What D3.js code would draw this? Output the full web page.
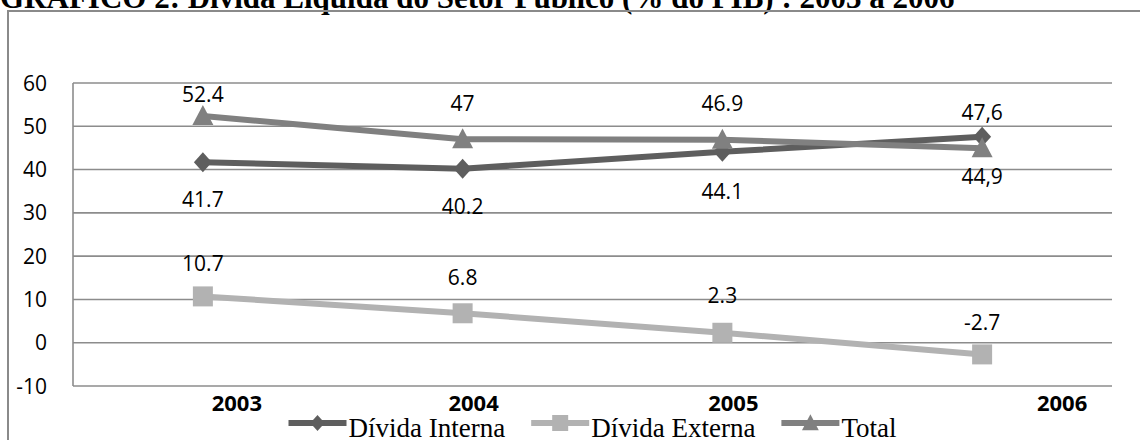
<!DOCTYPE html>
<html>
<head>
<meta charset="utf-8">
<script src="https://cdn.jsdelivr.net/npm/d3@7"></script>
<style>
  html, body { margin: 0; padding: 0; background: #fff; }
  svg { display: block; }
</style>
</head>
<body>
<svg id="chart" width="1140" height="440"></svg>
<script>
// Dívida Líquida do Setor Público (% do PIB), 2003–2006
const years = ["2003", "2004", "2005", "2006"];
const dividaInterna = [41.7, 40.2, 44.1, 47.6];
const dividaExterna = [10.7, 6.8, 2.3, -2.7];
const dividaTotal = [52.4, 47, 46.9, 44.9];
const yTicks = [-10, 0, 10, 20, 30, 40, 50, 60];

const titleText = "GRÁFICO 2: Dívida Líquida do Setor Público (% do PIB) : 2003 a 2006";

const series = [
  { name: "Dívida Interna", values: dividaInterna, color: "#5e5e5e", marker: "diamond",
    labelDy: [37, 38, 40, -24], comma: [false, false, false, true] },
  { name: "Dívida Externa", values: dividaExterna, color: "#b2b2b2", marker: "square",
    labelDy: [-33, -36, -37, -32], comma: [false, false, false, false] },
  { name: "Total", values: dividaTotal, color: "#808080", marker: "triangle",
    labelDy: [-21, -36, -36, 28], comma: [false, false, false, true] }
];

const svg = d3.select("#chart");
const plot = { left: 73, right: 1112, top: 83, bottom: 386 };

// page title (partly above the frame)
svg.append("text")
  .attr("x", 0).attr("y", 8)
  .attr("font-family", "'Liberation Serif', 'Times New Roman', serif")
  .attr("font-weight", "bold")
  .attr("font-size", 31)
  .attr("fill", "#000")
  .text(titleText);

// chart frame
svg.append("rect")
  .attr("x", 8).attr("y", 11)
  .attr("width", 1160).attr("height", 460)
  .attr("fill", "none").attr("stroke", "#8a8a8a").attr("stroke-width", 2);

const x = d3.scaleBand().domain(years).range([plot.left, plot.right]);
const y = d3.scaleLinear().domain([-10, 60]).range([plot.bottom, plot.top]);
const cx = d => x(d) + x.bandwidth() / 2;

// horizontal gridlines
svg.append("g").selectAll("line").data(yTicks).join("line")
  .attr("x1", plot.left).attr("x2", plot.right)
  .attr("y1", d => y(d)).attr("y2", d => y(d))
  .attr("stroke", "#8c8c8c").attr("stroke-width", 1.6);

// value axis line
svg.append("line")
  .attr("x1", plot.left).attr("x2", plot.left)
  .attr("y1", y(60)).attr("y2", y(-10))
  .attr("stroke", "#8c8c8c").attr("stroke-width", 1.6);

const sans = "'Open Sans', 'Noto Sans', sans-serif";

// y tick labels
svg.append("g").selectAll("text").data(yTicks).join("text")
  .attr("x", 47).attr("y", d => y(d))
  .attr("dy", "0.36em")
  .attr("text-anchor", "end")
  .attr("font-family", sans).attr("font-size", 21).attr("fill", "#000")
  .text(d => d);

// category labels (slightly right of each band centre)
const catLabelShift = [34, 11, 11, 80];
svg.append("g").selectAll("text").data(years).join("text")
  .attr("x", (d, i) => cx(d) + catLabelShift[i])
  .attr("y", 411)
  .attr("text-anchor", "middle")
  .attr("font-family", sans).attr("font-weight", "bold")
  .attr("font-size", 22).attr("fill", "#000")
  .text(d => d);

function markerPath(type) {
  if (type === "diamond") return "M0,-10L9,0L0,10L-9,0Z";
  if (type === "square") return "M-10,-10H10V10H-10Z";
  return "M0,-11L10.5,9L-10.5,9Z";
}

const line = d3.line().x((d, i) => cx(years[i])).y(d => y(d));

series.forEach(s => {
  const g = svg.append("g");
  g.append("path")
    .attr("d", line(s.values))
    .attr("fill", "none").attr("stroke", s.color)
    .attr("stroke-width", 6).attr("stroke-linejoin", "round");
  g.selectAll("path.m").data(s.values).join("path")
    .attr("class", "m")
    .attr("transform", (d, i) => `translate(${cx(years[i])},${y(d)})`)
    .attr("d", markerPath(s.marker))
    .attr("fill", s.color);
});

// data labels
series.forEach(s => {
  svg.append("g").selectAll("text").data(s.values).join("text")
    .attr("x", (d, i) => cx(years[i]))
    .attr("y", (d, i) => y(d) + s.labelDy[i])
    .attr("dy", "0.36em")
    .attr("text-anchor", "middle")
    .attr("font-family", sans).attr("font-size", 21).attr("fill", "#000")
    .text((d, i) => {
      const t = String(d);
      return s.comma[i] ? t.replace(".", ",") : t;
    });
});

// legend, centred under the plot
const legendFont = "'Liberation Serif', 'Times New Roman', serif";
const legend = svg.append("g");
const items = series.map(s => {
  const g = legend.append("g");
  g.append("line").attr("x1", 0).attr("x2", 58).attr("y1", 0).attr("y2", 0)
    .attr("stroke", s.color).attr("stroke-width", 6);
  g.append("path").attr("d", markerPath(s.marker))
    .attr("transform", "translate(29,0) scale(0.8)")
    .attr("fill", s.color);
  const t = g.append("text").attr("x", 60).attr("y", 14)
    .attr("font-family", legendFont).attr("font-size", 27).attr("fill", "#000")
    .text(s.name);
  return { g, w: 60 + t.node().getComputedTextLength() };
});
const gap = 26;
const total = d3.sum(items, d => d.w) + gap * (items.length - 1);
let lx = (plot.left + plot.right) / 2 - total / 2;
items.forEach(it => {
  it.g.attr("transform", `translate(${lx},423)`);
  lx += it.w + gap;
});
</script>
</body>
</html>
